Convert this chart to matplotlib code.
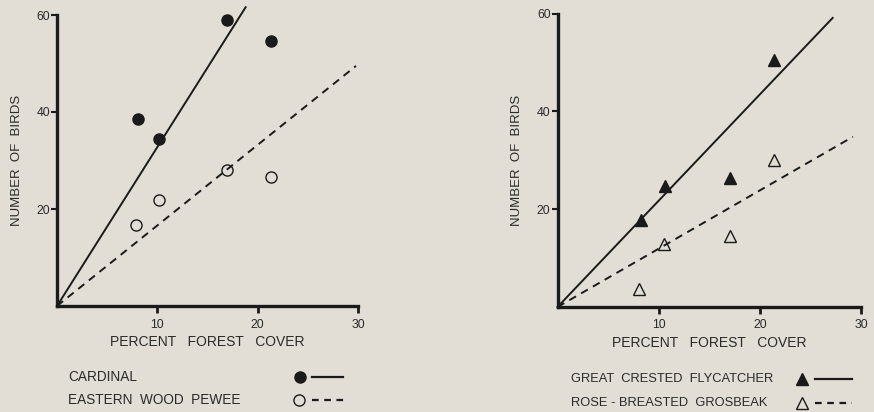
import matplotlib
matplotlib.use("Agg")
import matplotlib.pyplot as plt
from matplotlib.lines import Line2D
import numpy as np

plt.rcParams['font.family'] = ['Liberation Sans', 'DejaVu Sans']

# ---- data ----
cardinal_x = [8.1, 10.2, 16.9, 21.3]
cardinal_y = [38.5, 34.4, 59.0, 54.6]
pewee_x = [7.9, 10.2, 16.9, 21.3]
pewee_y = [16.8, 21.9, 28.0, 26.7]
cardinal_line_x = [0, 18.8]
cardinal_line_y = [0, 61.6]
pewee_line_x = [0, 29.8]
pewee_line_y = [0, 49.5]

flycatcher_x = [8.3, 10.6, 17.1, 21.4]
flycatcher_y = [17.8, 24.8, 26.4, 50.4]
grosbeak_x = [8.1, 10.5, 17.1, 21.4]
grosbeak_y = [3.7, 12.8, 14.6, 30.0]
flycatcher_line_x = [0, 27.2]
flycatcher_line_y = [0, 59.1]
grosbeak_line_x = [0, 29.2]
grosbeak_line_y = [0, 34.8]

x_ticks = [10, 20, 30]
y_ticks = [20, 40, 60]

BG = '#e2ded6'
INK = '#1a1a1a'
TXT = '#2a2a2a'
W, H = 874, 412

fig = plt.figure(figsize=(W / 100, H / 100), dpi=100, facecolor=BG)


def px_axes(x0, x1, y_top, y_bot):
    return fig.add_axes([x0 / W, 1 - y_bot / H, (x1 - x0) / W, (y_bot - y_top) / H])


def style(ax):
    ax.set_facecolor(BG)
    ax.set_xlim(0, 30)
    ax.set_ylim(0, 60)
    for s in ['top', 'right']:
        ax.spines[s].set_visible(False)
    for s in ['left', 'bottom']:
        ax.spines[s].set_linewidth(2.4)
        ax.spines[s].set_color(INK)
        ax.spines[s].set_capstyle('projecting')
    ax.set_xticks(x_ticks)
    ax.set_yticks(y_ticks)
    ax.tick_params(axis='x', direction='out', length=5, width=2, color=INK,
                   labelsize=8.8, labelcolor=TXT, pad=4)
    ax.tick_params(axis='y', direction='out', length=4, width=1.5, color=INK,
                   labelsize=8.8, labelcolor=TXT, pad=1)
    ax.set_xlabel('PERCENT   FOREST   COVER', fontsize=10, color=TXT, labelpad=3)
    ax.set_ylabel('NUMBER  OF  BIRDS', fontsize=9.5, color=TXT, labelpad=10)


# Left panel
ax1 = px_axes(57, 358, 15, 306)
style(ax1)
ax1.plot(cardinal_line_x, cardinal_line_y, color=INK, lw=1.4, clip_on=False)
ax1.plot(pewee_line_x, pewee_line_y, color=INK, lw=1.4, ls=(0, (4, 3)), clip_on=False)
ax1.plot(cardinal_x, cardinal_y, 'o', color=INK, ms=8, clip_on=False)
ax1.plot(pewee_x, pewee_y, 'o', mfc='none', mec=INK, mew=1.0, ms=8, clip_on=False)

# Right panel
ax2 = px_axes(557.5, 861, 13.5, 307)
style(ax2)
ax2.plot(flycatcher_line_x, flycatcher_line_y, color=INK, lw=1.4, clip_on=False)
ax2.plot(grosbeak_line_x, grosbeak_line_y, color=INK, lw=1.4, ls=(0, (4, 3)), clip_on=False)
ax2.plot(flycatcher_x, flycatcher_y, '^', color=INK, ms=8, clip_on=False)
ax2.plot(grosbeak_x, grosbeak_y, '^', mfc='none', mec=INK, mew=1.0, ms=8, clip_on=False)


# Legends (figure pixel coords)
def fx(x):
    return x / W


def fy(y):
    return 1 - y / H


def legend_row(text, tx, ty, mx, lx0, lx1, marker, filled, dashed, fs):
    fig.text(fx(tx), fy(ty), text, fontsize=fs, color=TXT, va='center', ha='left')
    fig.add_artist(Line2D([fx(mx)], [fy(ty)], marker=marker, ms=8,
                          mfc=INK if filled else 'none', mec=INK, mew=1.0, ls='none'))
    fig.add_artist(Line2D([fx(lx0), fx(lx1)], [fy(ty), fy(ty)], color=INK, lw=1.6,
                          ls=(0, (3, 2.5)) if dashed else '-'))


legend_row('CARDINAL', 68, 377, 300, 312, 343, 'o', True, False, 9.8)
legend_row('EASTERN  WOOD  PEWEE', 68, 400, 299, 312, 344, 'o', False, True, 9.8)
legend_row('GREAT  CRESTED  FLYCATCHER', 571, 379, 802, 815, 852, '^', True, False, 9.3)
legend_row('ROSE - BREASTED  GROSBEAK', 571, 403, 802, 815, 852, '^', False, True, 9.3)

fig.savefig('out.png', dpi=100, facecolor=BG)
